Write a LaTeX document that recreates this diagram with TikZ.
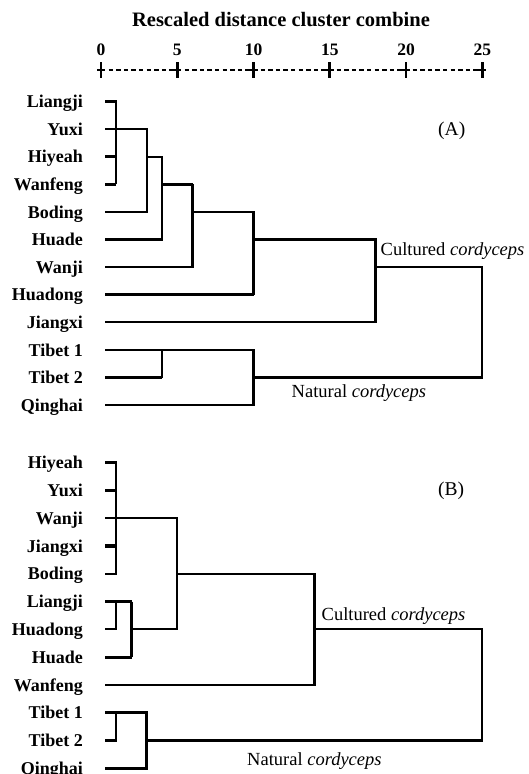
\documentclass[tikz,border=0pt]{standalone}
\usepackage{fontspec}
\setmainfont{Liberation Serif}
\usetikzlibrary{calc}
\def\dd#1{101+15.25*#1}
\tikzset{
	leaf/.style={anchor=base east, inner sep=0pt, font=\fontsize{18}{20}\selectfont\bfseries},
	note/.style={anchor=base west, inner sep=0pt, font=\fontsize{18.5}{20}\selectfont},
	link/.style={line width=2.1pt, line join=miter},
	fat/.style={line width=3.2pt, line join=miter},
}

\begin{document}
\begin{tikzpicture}[x=1pt,y=-1pt]
		\useasboundingbox (0,0) rectangle (528,774);
		%%%%% AXIS %%%%%
		\node[anchor=base, inner sep=0pt, font=\fontsize{20.5}{22}\selectfont\bfseries] (title) at (281,26) {Rescaled distance cluster combine};
		\foreach \t in {0,...,25} \coordinate (d\t) at ({\dd{\t}},70);
		\draw[line width=2.8pt, dash pattern=on 4.4pt off 3.2pt] (d0) -- (d25);
		\foreach \t in {0,5,...,25} {
			\node[anchor=base, inner sep=0pt, font=\fontsize{17.5}{20}\selectfont\bfseries] (n\t) at ($(d\t)+(0,-15)$) {\t};
			\draw[line width=2.8pt] ($(d\t)+(0,-8)$) -- ($(d\t)+(0,8)$);
			\draw[line width=2.8pt] ($(d\t)+(-4,0)$) -- ($(d\t)+(4,0)$);
		}
		
		%%%%% (A) %%%%%
		\foreach \nm [count=\i] in {Liangji,Yuxi,Hiyeah,Wanfeng,Boding,Huade,Wanji,Huadong,Jiangxi,Tibet 1,Tibet 2,Qinghai} {
			\node[leaf] (A\i) at (83,{101.5+27.6*(\i-1)+6.2}) {\nm};
			\coordinate (A\i s) at (105,{101.5+27.6*(\i-1)});
		}
		\node[anchor=base west, inner sep=0pt, font=\fontsize{19.5}{20}\selectfont] (tagA) at (438,135) {(A)};
		
		\draw[link] (A1s) -- (d1 |- A1s) -- (d1 |- A4s);
		\draw[fat] (A3s) -- (d1 |- A3s);
		\draw[fat] (A4s) -- (d1 |- A4s);
		\draw[link] (A2s) -- (d3 |- A2s) -- (d3 |- A5s) -- (A5s);
		\draw[link] (d3 |- A3s) -- (d4 |- A3s) -- (d4 |- A6s) -- (A6s);
		\draw[fat] (d4 |- A4s) -- (d6 |- A4s);
		\draw[link] (d6 |- A4s) -- (d6 |- A7s) -- (A7s);
		\draw[link] (d6 |- A5s) -- (d10 |- A5s) -- (d10 |- A8s);
		\draw[fat] (A8s) -- (d10 |- A8s);
		\draw[link] (d10 |- A6s) -- (d18 |- A6s) -- (d18 |- A9s) -- (A9s);
		\draw[link] (d18 |- A7s) -- (d25 |- A7s) -- (d25 |- A11s) -- (d10 |- A11s);
		
		\draw[link] (A10s) -- (d10 |- A10s) -- (d10 |- A12s) -- (A12s);
		\draw[fat] (A11s) -- (d4 |- A11s);
		\draw[link] (d4 |- A11s) -- (d4 |- A10s);
		
		\node[note] (cultA) at (380.5,255) {Cultured \textit{cordyceps}};
		\node[note] (natA) at (291.5,397) {Natural \textit{cordyceps}};
		
		%%%%% (B) %%%%%
		\foreach \nm [count=\i] in {Hiyeah,Yuxi,Wanji,Jiangxi,Boding,Liangji,Huadong,Huade,Wanfeng,Tibet 1,Tibet 2,Qinghai} {
			\node[leaf] (B\i) at (83,{462.5+27.8*(\i-1)+6.2}) {\nm};
			\coordinate (B\i s) at (105,{462.5+27.8*(\i-1)});
		}
		\node[anchor=base west, inner sep=0pt, font=\fontsize{19.5}{20}\selectfont] (tagB) at (438,495) {(B)};
		
		\draw[link] (B1s) -- (d1 |- B1s) -- (d1 |- B5s) -- (B5s);
		\draw[fat] (B2s) -- (d1 |- B2s);
		\draw[fat] (B4s) -- (d1 |- B4s);
		\draw[link] (B3s) -- (d5 |- B3s) -- (d5 |- B7s) -- (d2 |- B7s);
		
		\draw[fat] (B6s) -- (d2 |- B6s);
		\draw[link] (d1 |- B6s) -- (d1 |- B7s) -- (B7s);
		\draw[link] (d2 |- B6s) -- (d2 |- B8s);
		\draw[fat] (B8s) -- (d2 |- B8s);
		
		\draw[link] (d5 |- B5s) -- (d14 |- B5s) -- (d14 |- B9s) -- (B9s);
		\draw[link] (d14 |- B7s) -- (d25 |- B7s) -- (d25 |- B11s) -- (d3 |- B11s);
		
		\draw[fat] (B10s) -- (d3 |- B10s) -- (d3 |- B12s) -- (B12s);
		\draw[link] (d1 |- B10s) -- (d1 |- B11s) -- (B11s);
		
		\node[note] (cultB) at (321.5,620) {Cultured \textit{cordyceps}};
		\node[note] (natB) at (247,765) {Natural \textit{cordyceps}};
\end{tikzpicture}
\end{document}
